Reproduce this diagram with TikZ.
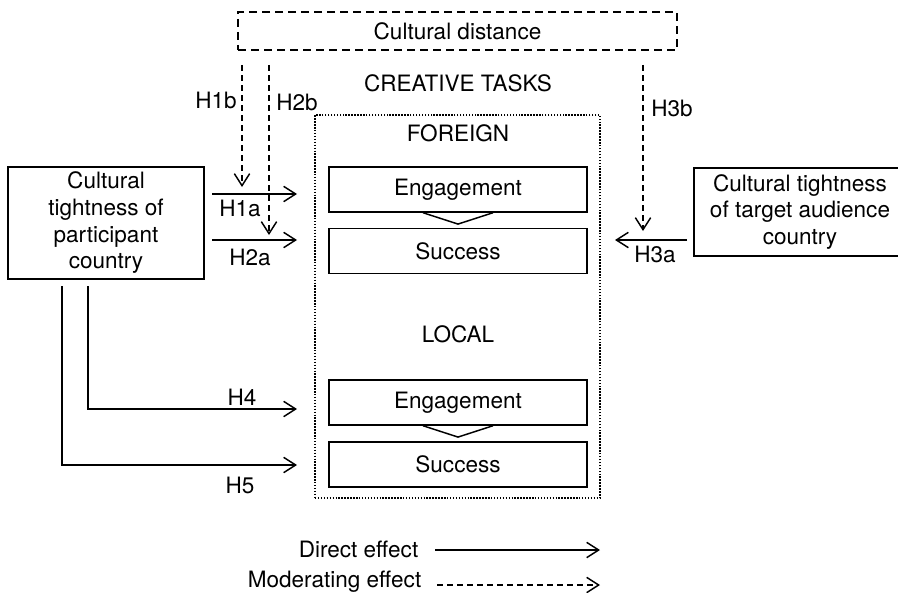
\documentclass[tikz,border=0pt]{standalone}
\usepackage{fontspec}
\setmainfont{TeX Gyre Heros}
\usetikzlibrary{arrows.meta}

\tikzset{every picture/.style={line width=1.1pt}}
\tikzset{
  box/.style={draw, inner sep=0pt, align=center},
  moddash/.style={dash pattern=on 4.5pt off 3pt},
  boxdash/.style={dash pattern=on 6pt off 3.75pt},
  taskdot/.style={line width=0.8pt, dash pattern=on 1.1pt off 1.1pt},
  arr/.style={-{Straight Barb[length=9pt,width=11.5pt]}},
}

\begin{document}
\begin{tikzpicture}[x=0.75pt,y=0.75pt,yscale=-1,xscale=1,font=\fontsize{16.9}{20}\selectfont]
	\useasboundingbox (0,0) rectangle (898,592);

	%Shape: Rectangle (cultural distance)
	\node (cdist) [box, boxdash, minimum width=329.25pt, minimum height=28.5pt] at (457.5,31) {Cultural distance};
	% Text Node
	\node (tasks) at (458,83) {CREATIVE TASKS};
	%Shape: Rectangle (tasks frame)
	\node (frame) [draw, taskdot, minimum width=213.75pt, minimum height=287.25pt] at (457.5,306.5) {};
	% Text Node
	\node (foreign) at (458,133) {FOREIGN};
	% Text Node
	\node (local) at (458,334) {LOCAL};

	%Shape: Rectangle (foreign)
	\node (engF) [box, minimum width=193.5pt, minimum height=33.75pt] at (458,189.5) {Engagement};
	\node (sucF) [box, minimum width=193.5pt, minimum height=33.75pt] at (458,251) {Success};
	%Shape: Rectangle (local)
	\node (engL) [box, minimum width=193.5pt, minimum height=33.75pt] at (458,402.5) {Engagement};
	\node (sucL) [box, minimum width=193.5pt, minimum height=33.75pt] at (458,464.5) {Success};

	%Shape: Polygon
	\draw ([xshift=-26.25pt]engF.south) -- ([yshift=8.5pt]engF.south) -- ([xshift=26.25pt]engF.south) ;
	%Shape: Polygon
	\draw ([xshift=-26.25pt]engL.south) -- ([yshift=8.5pt]engL.south) -- ([xshift=26.25pt]engL.south) ;

	%Shape: Rectangle (participant)
	\node (part) [box, minimum width=147pt, minimum height=84pt] at (106,223) {Cultural\\tightness of\\participant\\country};
	%Shape: Rectangle (audience)
	\node (aud) [box, minimum width=159pt, minimum height=66pt] at (800,212) {Cultural tightness\\of target audience\\country};

	\coordinate (h1aS) at (212,194);
	\coordinate (h1aE) at (297,194);
	\coordinate (h2aS) at (212,240);
	\coordinate (h2aE) at (297,240);
	\coordinate (h1bS) at (242,65);
	\coordinate (h1bE) at (242,187);
	\coordinate (h2bS) at (269,65);
	\coordinate (h2bE) at (269,235);
	\coordinate (h3bS) at (643,65);
	\coordinate (h3bE) at (643,231);
	\coordinate (h3aS) at (687,240);
	\coordinate (h3aE) at (615,240);
	\coordinate (h4S) at (88,286);
	\coordinate (h4E) at (297,409);
	\coordinate (h5S) at (62,286);
	\coordinate (h5E) at (297,465);

	%Straight Lines
	\draw [arr] (h1aS) -- (h1aE) ;
	\draw [arr] (h2aS) -- (h2aE) ;
	\draw [arr] (h3aS) -- (h3aE) ;
	\draw [arr] (h4S) |- (h4E) ;
	\draw [arr] (h5S) |- (h5E) ;
	%Straight Lines (moderating)
	\draw [arr, moddash] (h1bS) -- (h1bE) ;
	\draw [arr, moddash] (h2bS) -- (h2bE) ;
	\draw [arr, moddash] (h3bS) -- (h3bE) ;

	% Text Node
	\node (lh1a) at (240,208) {H1a};
	\node (lh2a) at (250,257) {H2a};
	\node (lh3a) at (655,254) {H3a};
	\node (lh1b) at (216,100) {H1b};
	\node (lh2b) at (297,102) {H2b};
	\node (lh3b) at (672,108) {H3b};
	\node (lh4) at (242,397) {H4};
	\node (lh5) at (240,485) {H5};

	% Text Node (legend)
	\node (ldir) [anchor=east, inner sep=0pt] at (419,549) {Direct effect};
	\node (lmod) [anchor=east, inner sep=0pt] at (422,582) {Moderating effect};
	\coordinate (dirS) at (435,550);
	\coordinate (dirE) at (600,550);
	\coordinate (modS) at (437,585);
	\coordinate (modE) at (600,585);
	\draw [arr] (dirS) -- (dirE) ;
	\draw [arr, moddash] (modS) -- (modE) ;

\end{tikzpicture}
\end{document}
